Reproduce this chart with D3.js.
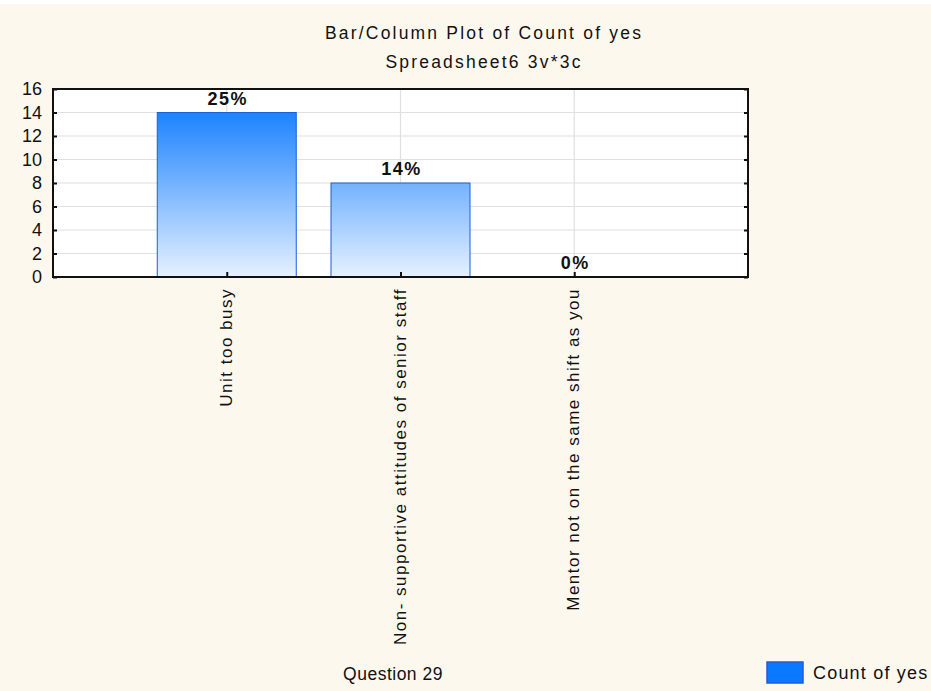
<!DOCTYPE html>
<html>
<head>
<meta charset="utf-8">
<script src="https://cdn.jsdelivr.net/npm/d3@7"></script>
<style>
  html, body { margin: 0; padding: 0; background: #fdf8ee; }
  svg { display: block; }
  text { font-family: "Liberation Sans", Arial, sans-serif; fill: #111; }
</style>
</head>
<body>
<svg id="chart" width="931" height="691"></svg>
<script>
// Data
const categories = ["Unit too busy", "Non- supportive attitudes of senior staff", "Mentor not on the same shift as you"];
const counts = [14, 8, 0];
const percentLabels = ["25%", "14%", "0%"];
const yTicks = [0, 2, 4, 6, 8, 10, 12, 14, 16];

const W = 931, H = 691;
const margin = { left: 53, right: 183, top: 89, bottom: 414 };
const svg = d3.select("#chart");

// page background with thin white strip on top
svg.append("rect").attr("x", 0).attr("y", 0).attr("width", W).attr("height", H).attr("fill", "#fdf8ee");
svg.append("rect").attr("x", 0).attr("y", 0).attr("width", W).attr("height", 4).attr("fill", "#ffffff");

const x0 = margin.left, x1 = W - margin.right;
const y0 = H - margin.bottom, y1 = margin.top;

// Categories sit at positions 1..3 on a 0..4 axis
const x = d3.scaleLinear().domain([0, categories.length + 1]).range([x0, x1]);
const y = d3.scaleLinear().domain([0, 16]).range([y0, y1]);
const slot = x(1) - x(0);
const barW = slot * 0.8;

// Plot area
svg.append("rect").attr("x", x0).attr("y", y1).attr("width", x1 - x0).attr("height", y0 - y1).attr("fill", "#ffffff");

// Gradient
const defs = svg.append("defs");
const grad = defs.append("linearGradient").attr("id", "barGrad")
  .attr("gradientUnits", "userSpaceOnUse")
  .attr("x1", 0).attr("x2", 0).attr("y1", y(16)).attr("y2", y(0));
grad.append("stop").attr("offset", "0%").attr("stop-color", "#0073ff");
grad.append("stop").attr("offset", "100%").attr("stop-color", "#e6f1ff");

// Gridlines
const grid = svg.append("g");
grid.selectAll("line.h").data(yTicks.filter(d => d > 0 && d < 16)).join("line")
  .attr("x1", x0).attr("x2", x1).attr("y1", d => y(d)).attr("y2", d => y(d))
  .attr("stroke", "#e0e0e0").attr("stroke-width", 1.2);
grid.selectAll("line.v").data(categories.map((c, i) => i + 1)).join("line")
  .attr("x1", d => x(d)).attr("x2", d => x(d)).attr("y1", y1).attr("y2", y0)
  .attr("stroke", "#e0e0e0").attr("stroke-width", 1.2);

// Bars
svg.append("g").selectAll("rect").data(counts).join("rect")
  .attr("x", (d, i) => x(i + 1) - barW / 2)
  .attr("y", d => y(d))
  .attr("width", barW)
  .attr("height", d => Math.max(0, y(0) - y(d)))
  .attr("fill", "url(#barGrad)")
  .attr("stroke", "#1c5ed6").attr("stroke-width", 1);

// Value labels
svg.append("g").selectAll("text").data(counts).join("text")
  .attr("x", (d, i) => x(i + 1) + 1)
  .attr("y", d => y(d) - 8)
  .attr("text-anchor", "middle")
  .attr("font-size", 18).attr("font-weight", "bold").attr("letter-spacing", 1.5)
  .text((d, i) => percentLabels[i]);

// Axes
const leftAxis = d3.axisLeft(y).tickValues(yTicks).tickSizeInner(-4).tickSizeOuter(0).tickPadding(11);
const gL = svg.append("g").attr("transform", `translate(${x0},0)`).call(leftAxis);
gL.selectAll("text").attr("font-size", 18).attr("font-family", "Liberation Sans, Arial, sans-serif").attr("fill", "#111");
gL.selectAll("line").attr("stroke", "#111").attr("stroke-width", 2);
gL.select(".domain").remove();

const rightAxis = d3.axisRight(y).tickValues(yTicks).tickSizeInner(-4).tickSizeOuter(0).tickFormat("");
const gR = svg.append("g").attr("transform", `translate(${x1},0)`).call(rightAxis);
gR.selectAll("line").attr("stroke", "#111").attr("stroke-width", 2);
gR.select(".domain").remove();

const bottomAxis = d3.axisBottom(x).tickValues(categories.map((c, i) => i + 1)).tickSizeInner(-5).tickSizeOuter(0)
  .tickFormat("");
const gB = svg.append("g").attr("transform", `translate(0,${y0})`).call(bottomAxis);
gB.selectAll("line").attr("stroke", "#111").attr("stroke-width", 2);
gB.select(".domain").remove();

// Frame
svg.append("rect").attr("x", x0).attr("y", y1).attr("width", x1 - x0).attr("height", y0 - y1)
  .attr("fill", "none").attr("stroke", "#111").attr("stroke-width", 2);

// Category labels (rotated)
svg.append("g").selectAll("text").data(categories).join("text")
  .attr("transform", (d, i) => `translate(${x(i + 1) + 5},${y0 + 11}) rotate(-90)`)
  .attr("text-anchor", "end")
  .attr("font-size", 17).attr("letter-spacing", 1.5)
  .text(d => d);

// Titles
svg.append("text").attr("x", 484).attr("y", 39).attr("text-anchor", "middle")
  .attr("font-size", 17.5).attr("letter-spacing", 2.2)
  .text("Bar/Column Plot of Count of yes");
svg.append("text").attr("x", 484).attr("y", 68).attr("text-anchor", "middle")
  .attr("font-size", 17.5).attr("letter-spacing", 2.2)
  .text("Spreadsheet6 3v*3c");
svg.append("text").attr("x", 393).attr("y", 680).attr("text-anchor", "middle")
  .attr("font-size", 17.5).attr("letter-spacing", 0.5)
  .text("Question 29");

// Legend
svg.append("rect").attr("x", 767).attr("y", 662).attr("width", 36).attr("height", 21)
  .attr("fill", "#0a78ff").attr("stroke", "#1c5ed6").attr("stroke-width", 1.5);
svg.append("text").attr("x", 813).attr("y", 679).attr("font-size", 18).attr("letter-spacing", 1.2)
  .text("Count of yes");
</script>
</body>
</html>
